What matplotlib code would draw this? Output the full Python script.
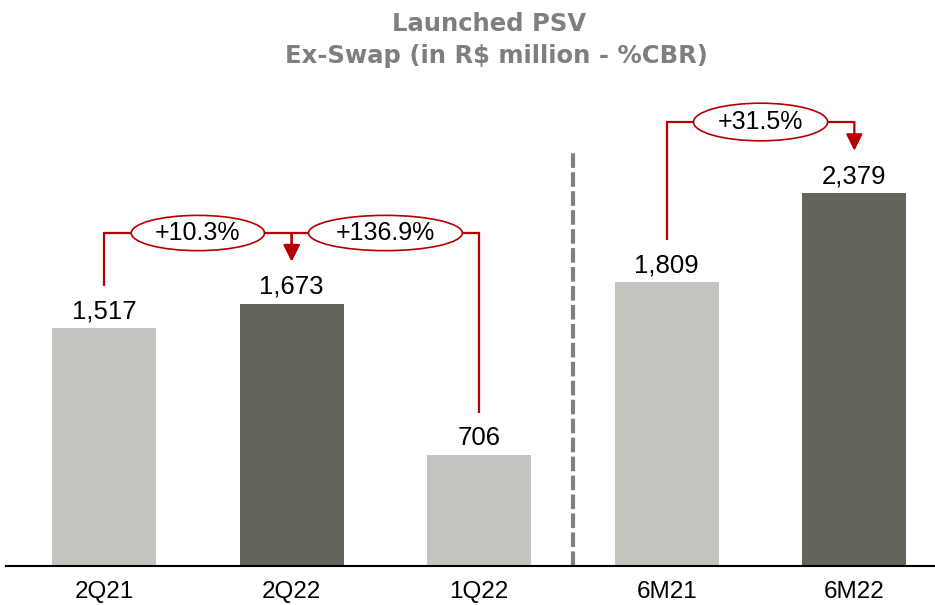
import matplotlib
matplotlib.use("Agg")
import matplotlib.pyplot as plt
from matplotlib.patches import Ellipse

categories = ["2Q21", "2Q22", "1Q22", "6M21", "6M22"]
values = [1517, 1673, 706, 1809, 2379]
value_labels = ["1,517", "1,673", "706", "1,809", "2,379"]
bar_colors = ["#C3C4BE", "#65645B", "#C3C4BE", "#C3C4BE", "#65645B"]
# (from index, to index (arrow), label, bracket level)
changes = [(0, 1, "+10.3%", 2124), (2, 1, "+136.9%", 2124), (3, 4, "+31.5%", 2832)]

RED = "#B40000"
FONT = ["Liberation Sans", "DejaVu Sans"]
fig = plt.figure(figsize=(9.35, 6.05), dpi=100)
ax = fig.add_axes([6/935, 39/605, 929/935, 486/605])
x = list(range(len(categories)))
ax.bar(x, values, width=0.555, color=bar_colors, zorder=2)
ax.set_xlim(-0.523, 4.43)
ax.set_ylim(0, 3100)
for xi, v, lab in zip(x, values, value_labels):
    ax.text(xi, v + 64, lab, ha="center", va="baseline", fontsize=18.5,
            color="black", family=FONT)

for s in ["top", "right", "left"]:
    ax.spines[s].set_visible(False)
ax.spines["bottom"].set_linewidth(1.5)
ax.set_yticks([])
ax.set_xticks(x)
ax.set_xticklabels(categories, fontsize=17.5, family=FONT)
ax.tick_params(axis="x", length=0, pad=11)

# separator
ax.plot([2.5, 2.5], [0, 2647], ls=(0, (3.5, 1.05)), color="#808080", lw=3, zorder=1)

gap = 270
for a, b, lab, lvl in changes:
    ax.plot([a, a, b], [values[a] + gap, lvl, lvl], color=RED, lw=1.6, zorder=3,
            solid_joinstyle="miter", solid_capstyle="butt")
    ax.annotate("", xy=(b, values[b] + gap), xytext=(b, lvl),
                arrowprops=dict(arrowstyle="-|>,head_length=1.0,head_width=0.5",
                                color=RED, lw=1.6, shrinkA=0, shrinkB=0), zorder=3)

ell_specs = [(0.5, 2124, 0.71, 225, "+10.3%"), (1.5, 2124, 0.82, 225, "+136.9%"),
             (3.5, 2832, 0.715, 240, "+31.5%")]
for cx, cy, w, h, lab in ell_specs:
    e = Ellipse((cx, cy), w, h, facecolor="white", edgecolor=RED, lw=1.2, zorder=4)
    ax.add_patch(e)
    ax.text(cx, cy, lab, ha="center", va="center", fontsize=18, zorder=5, family=FONT)

fig.text(489/935, 1 - 24/605, "Launched PSV", ha="center", va="center", fontsize=17.5,
         fontweight="bold", color="#7F7F7F", family="DejaVu Sans")
fig.text(496/935, 1 - 56/605, "Ex-Swap (in R$ million - %CBR)", ha="center", va="center",
         fontsize=17.5, fontweight="bold", color="#7F7F7F", family="DejaVu Sans")

fig.savefig("out.png", dpi=100)
